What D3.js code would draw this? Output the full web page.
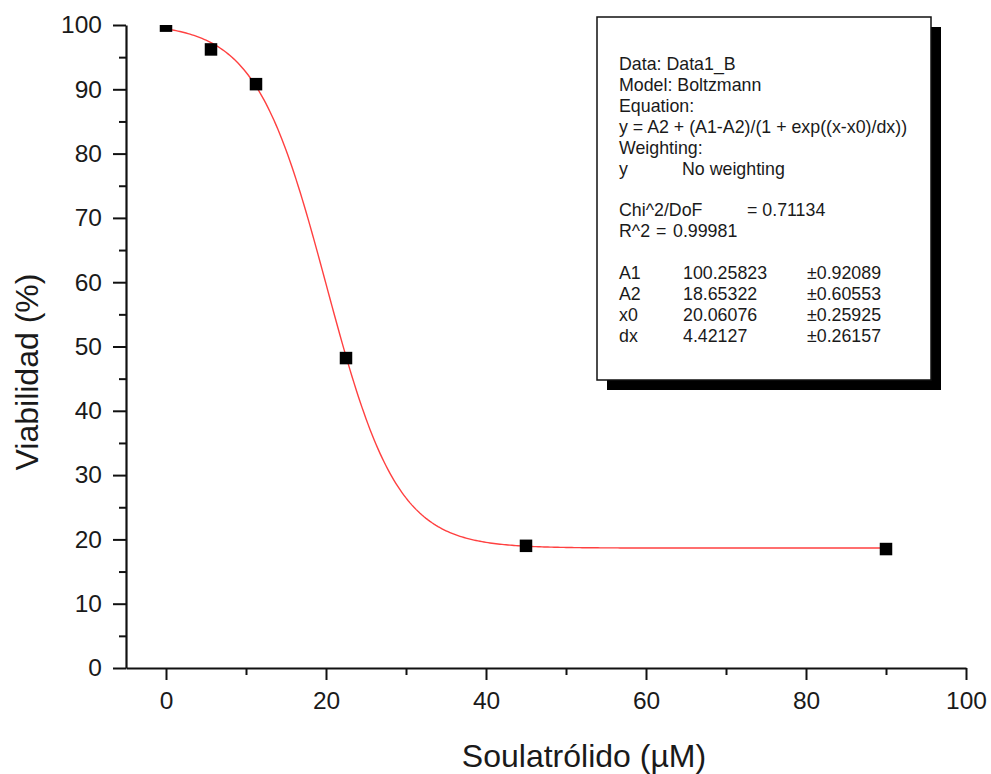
<!DOCTYPE html>
<html>
<head>
<meta charset="utf-8">
<script src="https://cdn.jsdelivr.net/npm/d3@7"></script>
<style>
  html, body { margin: 0; padding: 0; background: #fff; }
  #chart { width: 991px; height: 774px; }
  text { font-family: 'Liberation Sans', Arial, sans-serif; fill: #1a1a1a; }
</style>
</head>
<body>
<div id="chart"></div>
<script>
// measured points (concentration in µM, viability in %)
const concentrations = [0, 5.625, 11.25, 22.5, 45, 90];
const viability = [99.9, 96.2, 90.8, 48.2, 19.0, 18.5];

// Boltzmann fit results
const paramNames = ['A1', 'A2', 'x0', 'dx'];
const paramValues = [100.25823, 18.65322, 20.06076, 4.42127];
const paramErrors = [0.92089, 0.60553, 0.25925, 0.26157];
const chiSqDof = '0.71134';
const rSquared = '0.99981';

const xMajorTicks = [0, 20, 40, 60, 80, 100];
const xMinorTicks = [10, 30, 50, 70, 90];
const yMajorTicks = [0, 10, 20, 30, 40, 50, 60, 70, 80, 90, 100];
const yMinorTicks = [5, 15, 25, 35, 45, 55, 65, 75, 85, 95];

const xTitle = 'Soulatrólido (µM)';
const yTitle = 'Viabilidad (%)';

const width = 991;
const height = 774;
const plot = { left: 126, right: 966, top: 25, bottom: 668 };

const svg = d3.select('#chart')
  .append('svg')
  .attr('width', width)
  .attr('height', height);

svg.append('rect').attr('width', width).attr('height', height).attr('fill', '#fff');

const xScale = d3.scaleLinear().domain([-5, 100]).range([plot.left, plot.right]);
const yScale = d3.scaleLinear().domain([0, 100]).range([plot.bottom, plot.top]);

svg.append('defs').append('clipPath').attr('id', 'plotClip')
  .append('rect')
  .attr('x', plot.left)
  .attr('y', plot.top)
  .attr('width', plot.right - plot.left)
  .attr('height', plot.bottom - plot.top);

// axes
function styleAxis(g) {
  g.selectAll('path.domain').attr('stroke', '#111').attr('stroke-width', 2.2);
  g.selectAll('.tick line').attr('stroke', '#111').attr('stroke-width', 2);
  g.selectAll('.tick text')
    .attr('font-family', "'Liberation Sans', Arial, sans-serif")
    .attr('fill', '#1a1a1a');
}

const gx = svg.append('g').attr('transform', 'translate(0,' + plot.bottom + ')');
gx.call(d3.axisBottom(xScale).tickValues(xMinorTicks).tickSize(7).tickSizeOuter(0).tickFormat(''));
gx.call(styleAxis);
const gxMajor = svg.append('g').attr('transform', 'translate(0,' + plot.bottom + ')');
gxMajor.call(d3.axisBottom(xScale).tickValues(xMajorTicks).tickSize(12).tickPadding(12).tickSizeOuter(0))
  .attr('font-size', 24.5);
gxMajor.select('path.domain').remove();
gxMajor.call(styleAxis);

const gy = svg.append('g').attr('transform', 'translate(' + plot.left + ',0)');
gy.call(d3.axisLeft(yScale).tickValues(yMinorTicks).tickSize(7).tickSizeOuter(0).tickFormat(''));
gy.call(styleAxis);
const gyMajor = svg.append('g').attr('transform', 'translate(' + plot.left + ',0)');
gyMajor.call(d3.axisLeft(yScale).tickValues(yMajorTicks).tickSize(13).tickPadding(11).tickSizeOuter(0))
  .attr('font-size', 24.5);
gyMajor.select('path.domain').remove();
gyMajor.call(styleAxis);

// axis titles
svg.append('text')
  .attr('x', 584)
  .attr('y', 767)
  .attr('text-anchor', 'middle')
  .attr('font-size', 32)
  .text(xTitle);

svg.append('text')
  .attr('transform', 'translate(38,' + 372 + ') rotate(-90)')
  .attr('text-anchor', 'middle')
  .attr('font-size', 32)
  .text(yTitle);

// fitted curve
const boltzmann = (x) =>
  paramValues[1] + (paramValues[0] - paramValues[1]) / (1 + Math.exp((x - paramValues[2]) / paramValues[3]));
const curveX = d3.range(0, d3.max(concentrations) + 0.001, 0.25);
const line = d3.line()
  .x((d) => xScale(d))
  .y((d) => yScale(boltzmann(d)));

const plotG = svg.append('g').attr('clip-path', 'url(#plotClip)');
plotG.append('path')
  .datum(curveX)
  .attr('d', line)
  .attr('fill', 'none')
  .attr('stroke', '#ff4040')
  .attr('stroke-width', 1.4);

// markers
const size = 12.5;
plotG.selectAll('rect.pt')
  .data(concentrations.map((c, i) => ({ x: c, y: viability[i] })))
  .enter()
  .append('rect')
  .attr('class', 'pt')
  .attr('x', (d) => xScale(d.x) - size / 2)
  .attr('y', (d) => yScale(d.y) - size / 2)
  .attr('width', size)
  .attr('height', size)
  .attr('fill', '#000');

// fit report box
const box = { x: 597, y: 17, w: 334, h: 363, shadow: 10 };
const boxG = svg.append('g');
boxG.append('rect')
  .attr('x', box.x + box.shadow)
  .attr('y', box.y + box.shadow)
  .attr('width', box.w)
  .attr('height', box.h)
  .attr('fill', '#000');
boxG.append('rect')
  .attr('x', box.x)
  .attr('y', box.y)
  .attr('width', box.w)
  .attr('height', box.h)
  .attr('fill', '#fff')
  .attr('stroke', '#111')
  .attr('stroke-width', 1.5);

const reportRows = [
  ['Data: Data1_B'],
  ['Model: Boltzmann'],
  ['Equation:'],
  ['y = A2 + (A1-A2)/(1 + exp((x-x0)/dx))'],
  ['Weighting:'],
  ['y', 'No weighting'],
  [],
  ['Chi^2/DoF', '= ' + chiSqDof],
  ['R^2', '=', rSquared],
  [],
].concat(paramNames.map((n, i) => [n, paramValues[i].toFixed(5), '±' + paramErrors[i].toFixed(5)]));

// column offsets for each row, relative to the text left edge
const colOffsets = [[0], [0], [0], [0], [0], [0, 63], [], [0, 128], [0, 37, 54], [],
  [0, 64, 188], [0, 64, 188], [0, 64, 188], [0, 64, 188]];

const textLeft = 619;
const firstBase = 70;
const lineH = 20.9;

reportRows.forEach((row, r) => {
  row.forEach((cell, c) => {
    boxG.append('text')
      .attr('x', textLeft + colOffsets[r][c])
      .attr('y', firstBase + r * lineH)
      .attr('font-size', 17.8)
      .text(cell);
  });
});
</script>
</body>
</html>
